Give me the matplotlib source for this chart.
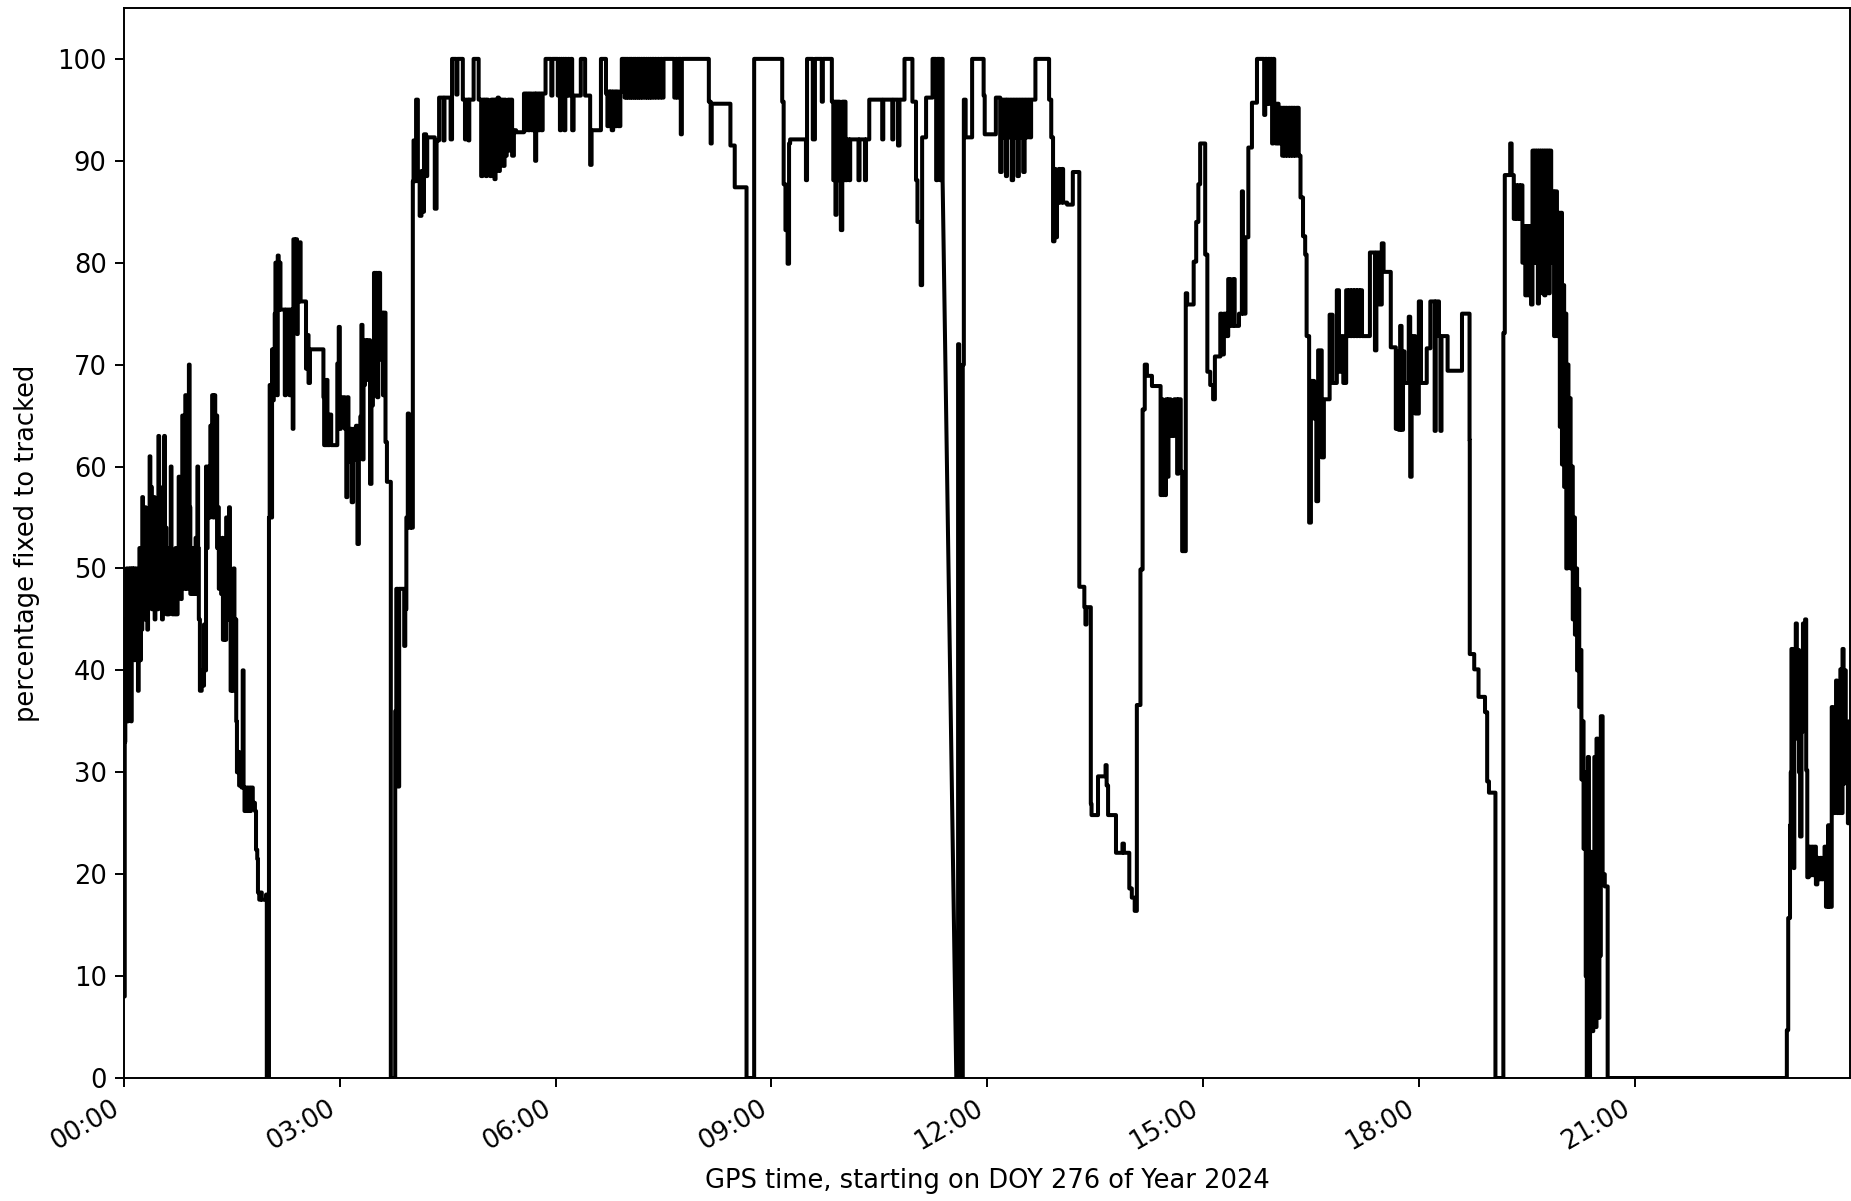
import datetime as dt
import matplotlib
matplotlib.use('Agg')
import matplotlib.pyplot as plt
import matplotlib.dates as mdates

# (hour of day, percentage fixed to tracked), each value holds until the next hour
seg_0000 = [
    (0.000, 8), (0.010, 33), (0.018, 45), (0.026, 38), (0.034, 50), (0.042, 43), (0.050, 35),
    (0.058, 47), (0.066, 50), (0.074, 37), (0.082, 45), (0.090, 50), (0.098, 35), (0.106, 42),
    (0.114, 50), (0.124, 44), (0.134, 50), (0.144, 41), (0.154, 47), (0.164, 50), (0.174, 43),
    (0.184, 48), (0.194, 38), (0.204, 46), (0.214, 52), (0.224, 41), (0.234, 47), (0.244, 44),
    (0.254, 57), (0.264, 46), (0.274, 53), (0.284, 45), (0.294, 56), (0.304, 48), (0.314, 52),
    (0.324, 44), (0.334, 55), (0.344, 49), (0.356, 61), (0.366, 50), (0.376, 58), (0.386, 46),
    (0.396, 54), (0.406, 47), (0.416, 57), (0.426, 45), (0.436, 52), (0.446, 48), (0.458, 55),
    (0.468, 46), (0.478, 63), (0.488, 50), (0.498, 56), (0.508, 47), (0.518, 53), (0.528, 45),
    (0.540, 58), (0.550, 50), (0.558, 63), (0.568, 49), (0.578, 54), (0.590, 45.5), (0.605, 50),
    (0.615, 45.5), (0.628, 52), (0.638, 47), (0.650, 60), (0.660, 50), (0.672, 45.5), (0.715, 52),
    (0.728, 45.5), (0.745, 50), (0.760, 59), (0.772, 48), (0.782, 55), (0.792, 47), (0.802, 52),
    (0.810, 65), (0.820, 50), (0.832, 57), (0.842, 48), (0.852, 67), (0.862, 55), (0.872, 48),
    (0.884, 58), (0.896, 52), (0.902, 70), (0.912, 56), (0.922, 47.5), (0.940, 52), (0.952, 47.5),
    (0.970, 52), (0.980, 47.5), (0.995, 53), (1.005, 47.5), (1.020, 60), (1.030, 52), (1.040, 45),
    (1.055, 38), (1.080, 40), (1.095, 38.5), (1.112, 44.5), (1.128, 40), (1.140, 60), (1.152, 52),
    (1.162, 57), (1.175, 60), (1.190, 55), (1.200, 64), (1.215, 60), (1.225, 67), (1.240, 55),
    (1.252, 67), (1.268, 57), (1.280, 65), (1.295, 52), (1.305, 56), (1.318, 48), (1.335, 52),
    (1.350, 47.5), (1.365, 53), (1.375, 43), (1.395, 47.5), (1.405, 43), (1.420, 55), (1.432, 50),
    (1.445, 45), (1.460, 56), (1.472, 47.5), (1.482, 38), (1.500, 45), (1.510, 38), (1.522, 50),
    (1.535, 43), (1.548, 45), (1.560, 35), (1.570, 30), (1.590, 32), (1.600, 28.7), (1.625, 31),
    (1.635, 28.5), (1.650, 40), (1.662, 28.5), (1.675, 26.2), (1.695, 28.5), (1.710, 26.2),
    (1.730, 28.5), (1.745, 26.2), (1.765, 28.5), (1.790, 27), (1.820, 26.2), (1.835, 22.4),
    (1.852, 21.5), (1.862, 18.2), (1.880, 17.5), (1.900, 18.2), (1.915, 17.5), (1.975, 18),
    (1.985, 0),
]

seg_0200 = [
    (2.015, 55), (2.025, 68), (2.035, 57), (2.045, 55), (2.058, 71.5), (2.070, 66.5),
    (2.082, 71.5), (2.095, 75), (2.105, 80), (2.115, 78), (2.125, 67), (2.137, 80.7),
    (2.150, 75.4), (2.165, 80), (2.175, 75.4), (2.235, 67), (2.250, 75.4), (2.300, 67),
    (2.318, 75.4), (2.335, 73), (2.345, 63.7), (2.355, 82.3), (2.375, 76), (2.390, 82.3),
    (2.405, 73), (2.415, 80), (2.430, 76.2), (2.445, 82), (2.455, 76.2), (2.530, 69.6),
    (2.548, 72.9), (2.565, 68.2), (2.585, 71.5), (2.772, 66.8), (2.782, 62.1), (2.815, 68.5),
    (2.828, 62.1), (2.860, 65.1), (2.880, 62.1), (2.965, 70.1), (2.985, 73.7), (3.000, 63.7),
    (3.014, 66.8), (3.070, 63.7), (3.090, 57), (3.105, 66.8), (3.120, 60.5), (3.140, 63.7),
    (3.165, 56.5), (3.185, 63.7), (3.210, 60.7), (3.225, 64), (3.245, 52.4), (3.265, 61),
    (3.285, 64.9), (3.300, 73.9), (3.315, 60.7), (3.330, 68), (3.350, 72.4), (3.368, 68.5),
    (3.385, 72.4), (3.420, 58.3), (3.440, 66), (3.460, 70.5), (3.475, 79), (3.490, 67),
    (3.500, 79), (3.520, 66.8), (3.535, 79), (3.560, 70.5), (3.585, 75.1), (3.600, 67),
    (3.615, 75.1), (3.635, 62.4), (3.655, 58.5), (3.709, 0), (3.770, 36), (3.785, 48),
    (3.810, 28.6), (3.825, 48), (3.895, 42.4), (3.910, 46), (3.925, 55), (3.945, 65.2),
    (3.960, 54), (3.985, 65), (4.000, 54),
]

seg_0400 = [
    (4.015, 88), (4.025, 92), (4.045, 88), (4.060, 96), (4.085, 88), (4.110, 84.6), (4.135, 89),
    (4.150, 85), (4.170, 92.6), (4.200, 88.5), (4.215, 92.3), (4.320, 85.3), (4.345, 92),
    (4.380, 96.2), (4.440, 92), (4.455, 96.2), (4.540, 92.1), (4.560, 100), (4.620, 96.5),
    (4.635, 100), (4.710, 96), (4.740, 92.1), (4.760, 96), (4.790, 92), (4.800, 96),
    (4.860, 100), (4.930, 96), (4.965, 88.5), (4.985, 96), (5.000, 90), (5.015, 96),
    (5.030, 88.5), (5.045, 96), (5.060, 89), (5.075, 95.5), (5.090, 88.5), (5.105, 96),
    (5.120, 89), (5.135, 96), (5.150, 88.2), (5.165, 96), (5.180, 89.5), (5.195, 96.2),
    (5.210, 89), (5.225, 96), (5.240, 90), (5.255, 96), (5.270, 89.5), (5.290, 96),
    (5.305, 90.5), (5.320, 93), (5.340, 96), (5.360, 91), (5.380, 96), (5.395, 90.5),
    (5.420, 93), (5.450, 92.8), (5.560, 96.6), (5.580, 93), (5.600, 96.6), (5.620, 93),
    (5.640, 96.6), (5.665, 93), (5.690, 96.6), (5.715, 90), (5.730, 96.6), (5.760, 93),
    (5.780, 96.6), (5.800, 93), (5.820, 96.6), (5.860, 100), (5.940, 96.4), (5.955, 100),
    (6.030, 96.4), (6.045, 100), (6.060, 93), (6.075, 100), (6.090, 96.4), (6.105, 100),
    (6.120, 93), (6.135, 100), (6.150, 96.4), (6.170, 100), (6.190, 96.4), (6.210, 100),
    (6.230, 93), (6.250, 96.4), (6.350, 100), (6.410, 96.4), (6.480, 89.6), (6.500, 93),
    (6.630, 100), (6.700, 96.6), (6.720, 93.4), (6.735, 96.8), (6.750, 93.4), (6.765, 96.8),
    (6.780, 93), (6.800, 96.8), (6.830, 93.4), (6.850, 96.8), (6.870, 93.4), (6.900, 96.8),
    (6.920, 100), (6.960, 96.2), (6.970, 100), (6.985, 96.2), (6.995, 100), (7.010, 96.2),
    (7.025, 100), (7.040, 96.2), (7.050, 100), (7.065, 96.2), (7.080, 100), (7.095, 96.2),
    (7.105, 100), (7.120, 96.2), (7.135, 100), (7.150, 96.2), (7.160, 100), (7.175, 96.2),
    (7.190, 100), (7.205, 96.2), (7.220, 100), (7.240, 96.2), (7.255, 100), (7.270, 96.2),
    (7.285, 100), (7.300, 96.2), (7.315, 100), (7.330, 96.2), (7.345, 100), (7.365, 96.2),
    (7.380, 100), (7.400, 96.2), (7.420, 100), (7.440, 96.2), (7.460, 100), (7.480, 96.2),
    (7.500, 100), (7.650, 96.2), (7.670, 100), (7.690, 96.2), (7.705, 100), (7.740, 92.6),
    (7.755, 100), (8.130, 95.8), (8.155, 91.7), (8.170, 95.6), (8.430, 91.5), (8.490, 87.4),
    (8.654, 0),
]

seg_0845 = [
    (8.760, 100), (9.150, 95.8), (9.170, 87.7), (9.195, 83.2), (9.225, 79.9), (9.245, 91.7),
    (9.260, 92.1), (9.480, 88.1), (9.495, 100), (9.575, 92.1), (9.605, 100), (9.700, 95.8),
    (9.715, 100), (9.840, 95.8), (9.860, 88.1), (9.875, 95.8), (9.890, 84.7), (9.905, 95.8),
    (9.920, 88.1), (9.935, 95.8), (9.950, 88.1), (9.965, 83.2), (9.985, 95.8), (10.000, 88.1),
    (10.015, 95.8), (10.030, 88.1), (10.050, 92.1), (10.080, 88.1), (10.095, 92.1),
    (10.210, 88.1), (10.225, 92.1), (10.300, 88.1), (10.315, 92.1), (10.360, 96),
    (10.540, 92.1), (10.555, 96), (10.680, 92.1), (10.695, 96), (10.760, 91.5), (10.780, 96),
    (10.850, 100), (10.960, 95.8), (11.010, 88.1), (11.030, 84), (11.075, 77.8), (11.095, 92.3),
    (11.150, 96.2), (11.240, 100), (11.290, 88.1), (11.305, 100), (11.345, 88.1), (11.360, 100),
    (11.380, 88), (11.570, 0), (11.595, 72), (11.610, 0), (11.660, 70), (11.675, 96),
    (11.700, 92.3), (11.790, 100), (11.950, 96.4), (11.965, 92.6), (12.120, 96.2),
    (12.180, 88.9), (12.200, 96), (12.220, 92.3), (12.240, 96), (12.260, 88.5), (12.275, 96),
    (12.300, 92.3), (12.320, 96), (12.340, 88.1), (12.360, 96), (12.380, 92.3), (12.400, 96),
    (12.420, 88.5), (12.440, 96), (12.460, 92.3), (12.480, 96), (12.500, 88.9), (12.520, 96),
    (12.545, 92.3), (12.565, 96), (12.590, 92.3), (12.610, 96), (12.670, 100), (12.860, 96),
    (12.890, 92.3), (12.915, 82.1), (12.935, 89.2), (12.950, 82.5), (12.970, 85.9),
    (12.995, 89.2), (13.010, 85.9), (13.040, 89.2), (13.055, 85.9), (13.110, 85.7),
    (13.190, 88.9),
]

seg_1315 = [
    (13.280, 48.2), (13.350, 46.2), (13.365, 44.5), (13.380, 46.2), (13.440, 26.9),
    (13.450, 25.8), (13.540, 29.6), (13.645, 30.7), (13.660, 28.7), (13.680, 25.8),
    (13.790, 22.1), (13.880, 23), (13.900, 22.1), (13.975, 18.6), (14.010, 17.7),
    (14.050, 16.4), (14.080, 36.6), (14.130, 49.9), (14.160, 65.6), (14.190, 70),
    (14.220, 68.9), (14.290, 67.9), (14.410, 57.2), (14.425, 66.6), (14.440, 57.2),
    (14.455, 62), (14.470, 57.2), (14.485, 66.6), (14.500, 59), (14.520, 66.6), (14.550, 63),
    (14.600, 66.6), (14.640, 59.3), (14.660, 66.6), (14.690, 59.5), (14.710, 51.7),
    (14.760, 77), (14.780, 75.9), (14.870, 80.1), (14.905, 84), (14.935, 87.7), (14.960, 91.7),
    (15.030, 80.8), (15.060, 69.3), (15.100, 68), (15.140, 66.6), (15.165, 70.8), (15.240, 75),
    (15.260, 71), (15.290, 75), (15.320, 72.8), (15.350, 78.4), (15.380, 73.8), (15.420, 78.4),
    (15.440, 73.8), (15.500, 75), (15.540, 87), (15.555, 75), (15.590, 82.5), (15.630, 91.3),
    (15.680, 95.7), (15.750, 100), (15.850, 94.5), (15.865, 100), (15.890, 95.6),
    (15.905, 100), (15.925, 95.6), (15.940, 100), (15.960, 91.7), (15.975, 100),
    (15.990, 95.6), (16.010, 91.7), (16.030, 95.6), (16.050, 91.7), (16.080, 95.2),
    (16.100, 90.5), (16.115, 95.2), (16.135, 90.5), (16.150, 95.2), (16.170, 90.5),
    (16.190, 95.2), (16.210, 90.5), (16.225, 95.2), (16.245, 90.5), (16.260, 95.2),
    (16.280, 90.5), (16.300, 95.2), (16.330, 90.5), (16.355, 86.4), (16.390, 82.6),
    (16.420, 80.8), (16.440, 72.8), (16.475, 54.5), (16.500, 68.4), (16.545, 64.7),
    (16.575, 56.6), (16.600, 71.4), (16.650, 60.9), (16.680, 66.6), (16.760, 74.9),
    (16.800, 68.2), (16.860, 77.3), (16.890, 69.3), (16.920, 72.8), (16.950, 68.2),
    (16.990, 77.3), (17.010, 72.8), (17.030, 77.3), (17.050, 72.8), (17.070, 77.3),
    (17.090, 72.8), (17.110, 77.3), (17.130, 72.8), (17.150, 77.3), (17.170, 72.8),
    (17.190, 77.3), (17.210, 72.8), (17.320, 81), (17.390, 71.4), (17.410, 81),
    (17.450, 75.9), (17.485, 81.9), (17.510, 79.1), (17.610, 71.7), (17.680, 63.7),
    (17.700, 71.3), (17.720, 63.6), (17.740, 73.8), (17.760, 63.6), (17.780, 71.3),
    (17.800, 68.2), (17.860, 74.7), (17.880, 59), (17.900, 72.8), (17.950, 65.2),
    (18.000, 76.2), (18.030, 68.2), (18.110, 71.6), (18.160, 76.2), (18.220, 63.5),
    (18.235, 76.2), (18.280, 72.8), (18.300, 63.5), (18.315, 72.8), (18.400, 69.4),
    (18.600, 75), (18.705, 62.6), (18.708, 41.6), (18.770, 40.1), (18.830, 37.4),
    (18.920, 35.9), (18.950, 29.1), (18.975, 28), (19.065, 0),
]

seg_1910 = [
    (19.175, 73.1), (19.195, 88.6), (19.270, 91.7), (19.290, 88.6), (19.320, 84.3),
    (19.340, 87.6), (19.360, 84.3), (19.380, 87.6), (19.400, 84.3), (19.420, 87.6),
    (19.440, 80), (19.460, 83.6), (19.480, 76.8), (19.500, 83.6), (19.520, 76.8),
    (19.540, 83.6), (19.560, 75.9), (19.580, 91), (19.595, 80), (19.610, 91), (19.625, 80),
    (19.640, 91), (19.655, 76), (19.670, 91), (19.685, 80), (19.700, 91), (19.715, 77),
    (19.730, 91), (19.745, 76.8), (19.760, 91), (19.775, 80), (19.790, 91), (19.805, 77),
    (19.820, 91), (19.840, 80), (19.860, 87), (19.880, 72.8), (19.900, 87), (19.920, 72.8),
    (19.940, 84.9), (19.960, 63.9), (19.975, 84.9), (19.990, 60.2), (20.005, 77.8),
    (20.020, 58), (20.035, 75), (20.050, 50), (20.065, 70), (20.080, 55.5), (20.095, 66.7),
    (20.110, 50), (20.125, 60), (20.140, 45), (20.155, 55), (20.170, 43.5), (20.185, 50),
    (20.200, 40), (20.215, 48), (20.230, 36.4), (20.245, 42), (20.260, 29.3), (20.275, 35),
    (20.290, 22.5), (20.305, 30), (20.320, 10), (20.335, 0), (20.350, 31.5), (20.365, 0),
    (20.380, 22.2), (20.395, 12), (20.410, 4.6), (20.425, 12), (20.440, 31.5), (20.455, 5),
    (20.470, 33.3), (20.490, 5.9), (20.510, 12), (20.530, 35.5), (20.555, 20),
    (20.585, 18.8), (20.625, 0),
]

seg_2305 = [
    (23.116, 4.7), (23.135, 15.7), (23.160, 24.8), (23.170, 30), (23.180, 42.1),
    (23.195, 33), (23.210, 20.6), (23.220, 33.3), (23.240, 44.6), (23.255, 34), (23.270, 42),
    (23.285, 30), (23.300, 23.7), (23.320, 34), (23.340, 44.6), (23.355, 35), (23.370, 45),
    (23.385, 30.2), (23.400, 19.7), (23.420, 22.7), (23.440, 19.9), (23.460, 22.7),
    (23.480, 19.9), (23.500, 22.7), (23.520, 19), (23.540, 21.6), (23.560, 19.5),
    (23.580, 21.6), (23.600, 19.5), (23.620, 21.6), (23.640, 22.7), (23.660, 16.8),
    (23.690, 24.8), (23.700, 16.8), (23.740, 36.4), (23.760, 26), (23.780, 35), (23.800, 39),
    (23.815, 26), (23.830, 38), (23.845, 26), (23.860, 40.1), (23.875, 26), (23.890, 42.1),
    (23.905, 28.9), (23.920, 40), (23.935, 30), (23.950, 34.9), (23.965, 25), (23.980, 35),
    (23.995, 30),
]

# samples after which there is a data gap (line goes straight to next sample)
gap_after = [11.380]

doy = 276
year = 2024

points = seg_0000 + seg_0200 + seg_0400 + seg_0845 + seg_1315 + seg_1910 + seg_2305
hours = [p[0] for p in points]
pct = [p[1] for p in points]

xs, ys = [], []
for i in range(len(hours)):
    xs.append(hours[i])
    ys.append(pct[i])
    if i + 1 < len(hours) and hours[i] not in gap_after:
        xs.append(hours[i + 1])
        ys.append(pct[i])

start = dt.datetime(year, 1, 1) + dt.timedelta(days=doy - 1)
times = [start + dt.timedelta(hours=h) for h in xs]

plt.rcParams['font.size'] = 18.5
plt.rcParams['axes.linewidth'] = 1.4
for ax_name in ('xtick', 'ytick'):
    plt.rcParams[ax_name + '.major.size'] = 6.5
    plt.rcParams[ax_name + '.major.width'] = 1.4
    plt.rcParams[ax_name + '.major.pad'] = 6

fig = plt.figure(figsize=(18.51, 12.01), dpi=100)
ax = fig.add_axes([0.067, 0.1024, 0.9325, 0.891])
ax.plot(times, ys, color='black', linewidth=2.9)

ax.set_xlim(start, start + dt.timedelta(hours=23.995))
ax.set_ylim(0, 105)
ax.xaxis.set_major_locator(mdates.HourLocator(byhour=range(0, 24, 3)))
ax.xaxis.set_major_formatter(mdates.DateFormatter('%H:%M'))
for lab in ax.get_xticklabels():
    lab.set_rotation(30)
    lab.set_ha('right')
ax.set_yticks(range(0, 101, 10))

ax.set_xlabel('GPS time, starting on DOY %d of Year %d' % (doy, year), labelpad=9)
ax.set_ylabel('percentage fixed to tracked', labelpad=12)

fig.savefig('out.png', dpi=100)
